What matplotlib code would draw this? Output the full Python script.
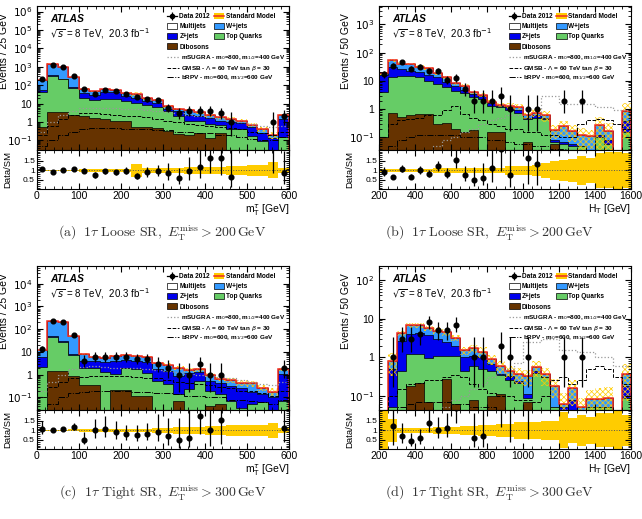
import numpy as np
import matplotlib
matplotlib.use("Agg")
import matplotlib.pyplot as plt
from matplotlib.patches import Patch
from matplotlib.lines import Line2D
from matplotlib.ticker import AutoMinorLocator, FuncFormatter, LogLocator, NullFormatter

plt.rcParams.update({
    "font.family": "Liberation Sans",
    "font.size": 7.5,
    "hatch.linewidth": 0.5,
    "axes.linewidth": 0.8,
})

C_DIB = "#663300"
C_TOP = "#66cc66"
C_Z = "#0000ee"
C_W = "#3399ff"
C_MJ = "white"
C_RED = "#ee2a24"
C_UNC = "#ffcc00"

edges_mt = np.arange(0, 601, 25)
edges_ht = np.arange(200, 1601, 50)

# ---------- (a) 1tau Loose SR, mT(tau) ----------
dib_a = [0.5, 3.5, 3.5, 2.4, 2.0, 1.6, 1.4, 1.2, 1.1, 0.5, 0.5, 0.45, 0.32, 0.23, 0.2, 0.26, 0.14, 0.26, 0, 0, 0, 0, 0, 0]
top_a = [39.5, 316, 206, 67.6, 18, 13.4, 15.6, 15.8, 12.9, 10.5, 8.0, 6.05, 3.68, 1.87, 0.9, 0.84, 0.61, 0.44, 0.4, 0.4, 0.17, 0.09, 0.01, 0.15]
zj_a = [15, 20, 20, 10, 18, 15, 23, 23, 13, 9, 4.5, 4.0, 1.0, 1.6, 1.3, 1.0, 0.85, 0.5, 0.6, 0.45, 0.33, 0.17, 0.13, 1.25]
wj_a = [147, 1090, 740, 193, 23, 17, 18, 16, 9, 12, 6, 4.8, 2.0, 1.5, 1.8, 1.3, 0.8, 0.6, 0.5, 0.35, 0.2, 0.14, 0.06, 0.9]
mj_a = [0.5, 2, 1, 0.3, 0, 0, 0, 0, 0, 0, 0, 0, 0, 0, 0, 0, 0, 0, 0, 0, 0, 0, 0, 0]
data_a = [220, 1300, 1000, 300, 60, 35, 55, 50, 35, 22, 17, 15, 6, 3, 4, 4, 4, 3, 1, 0, 0, 0, 1, 2]
unc_a = [0.05, 0.05, 0.05, 0.05, 0.08, 0.08, 0.08, 0.08, 0.08, 0.33, 0.13, 0.13, 0.15, 0.15, 0.18, 0.18, 0.2, 0.2, 0.22, 0.22, 0.28, 0.28, 0.42, 0.15]
sugra_a = [0.3, 1.0, 2.5, 4, 5.5, 6, 6, 5.5, 5, 5, 4.5, 4, 3.5, 3, 2.5, 2, 1.8, 1.5, 1.2, 1, 0.8, 0.6, 0.5, 0.6]
gmsb_a = [0.2, 0.6, 1.5, 2.5, 3, 3, 2.8, 2.5, 2.2, 2, 1.8, 1.5, 1.2, 1.0, 0.8, 0.7, 0.6, 0.5, 0.45, 0.4, 0.3, 0.25, 0.2, 0.3]
brpv_a = [0.05, 0.1, 0.2, 0.3, 0.4, 0.45, 0.45, 0.45, 0.4, 0.4, 0.4, 0.35, 0.35, 0.3, 0.3, 0.25, 0.25, 0.2, 0.2, 0.15, 0.12, 0.1, 0.1, 0.15]

# ---------- (b) 1tau Loose SR, HT ----------
dib_b = [0.1, 0.75, 0.55, 0.6, 0.7, 0.65, 0.3, 0.33, 0.2, 0.15, 0.18, 0, 0.15, 0.15, 0, 0, 0.07, 0, 0, 0.06, 0, 0, 0, 0, 0, 0, 0, 0]
top_b = [3.9, 12.75, 14.45, 14.4, 12.8, 9.35, 7.5, 5.67, 4.3, 3.45, 2.42, 2.3, 1.15, 1.0, 0.9, 0.76, 0.38, 0.5, 0.45, 0.01, 0.06, 0.05, 0.05, 0.02, 0.1, 0.06, 0, 0.15]
zj_b = [12, 17.5, 12, 8, 7.5, 6, 5.7, 3, 1.9, 1.3, 0.8, 0.7, 0.3, 0.1, 0.25, 0.19, 0.05, 0.1, 0.05, 0.01, 0.01, 0.01, 0, 0.01, 0.02, 0.02, 0, 0.23]
wj_b = [2.7, 23, 14, 17, 11, 12, 5.5, 4.4, 2.1, 1.9, 0.5, 0.3, 0.2, 0.15, 0.2, 0.25, 0.1, 0.16, 0.1, 0.1, 0.18, 0.11, 0.07, 0.08, 0.16, 0.09, 0, 0.47]
mj_b = [0] * 28
data_b = [17, 35, 45, 27, 32, 23, 23, 11, 13, 5, 2, 2, 2, 3, 1, 0, 1, 1, 0, 0, 2, 0, 2, 0, 0, 0, 0, 0]
unc_b = [0.1, 0.1, 0.1, 0.1, 0.1, 0.1, 0.12, 0.12, 0.12, 0.12, 0.15, 0.15, 0.15, 0.15, 0.25, 0.25, 0.25, 0.3, 0.4, 0.5, 0.55, 0.6, 0.75, 0.65, 0.9, 0.95, 1.0, 0.9]
sugra_b = [0.005, 0.005, 0.005, 0.01, 0.02, 0.03, 0.05, 0.08, 0.1, 0.15, 0.2, 0.3, 0.4, 0.5, 0.6, 0.6, 0.6, 0.6, 3.0, 3.0, 1.5, 1.5, 1.5, 1.5, 1.2, 1.2, 0.9, 0.9]
gmsb_b = [0.1, 0.3, 0.4, 0.45, 0.5, 0.6, 0.6, 0.9, 1.3, 0.7, 0.5, 0.4, 0.3, 0.25, 0.2, 0.2, 0.15, 0.15, 0.12, 0.12, 0.1, 0.1, 0.3, 0.4, 0.45, 0.4, 0.3, 0.2]
brpv_b = [0.02, 0.05, 0.08, 0.1, 0.12, 0.12, 0.12, 0.12, 0.12, 0.1, 0.1, 0.1, 0.08, 0.08, 0.07, 0.06, 0.06, 0.05, 0.05, 0.04, 0.04, 0.03, 0.03, 0.03, 0.02, 0.02, 0.02, 0.02]

# ---------- (c) 1tau Tight SR, mT(tau) ----------
dib_c = [0, 1.5, 1.5, 0.9, 0.36, 0.36, 0, 0.22, 0.22, 0.12, 0.12, 0, 0, 0.07, 0, 0, 0.04, 0.05, 0, 0, 0, 0, 0, 0]
top_c = [2.1, 43.5, 25.5, 6.1, 1.64, 1.64, 1.3, 0.83, 1.78, 1.68, 1.03, 0.55, 0.38, 0.07, 0.23, 0.54, 0.16, 0.09, 0.07, 0.035, 0.05, 0.06, 0, 0.07]
zj_c = [3.9, 3, 3, 1, 2, 2, 2.2, 2.75, 2.6, 2.4, 2.35, 1.25, 1.12, 0.76, 0.92, 0.73, 0.34, 0.29, 0.26, 0.215, 0.13, 0.08, 0.1, 1.0]
wj_c = [6, 182, 170, 40, 4, 2, 2, 2.7, 2.9, 2.3, 2.5, 1.4, 1.3, 1.1, 0.45, 0.43, 0.46, 0.22, 0.25, 0.2, 0.23, 0.13, 0.08, 0.68]
mj_c = [0] * 24
data_c = [13, 230, 210, 57, 4, 6, 6, 6, 6, 5, 5, 3, 2, 1, 1, 3, 1, 1, 0, 0, 0, 0, 0, 2]
unc_c = [0.04, 0.04, 0.04, 0.05, 0.08, 0.08, 0.08, 0.08, 0.08, 0.1, 0.1, 0.12, 0.12, 0.17, 0.17, 0.2, 0.22, 0.22, 0.28, 0.28, 0.3, 0.3, 0.38, 0.15]
sugra_c = [0.2, 0.5, 1.0, 1.8, 2.2, 2.3, 2.2, 2.0, 2.0, 1.9, 1.8, 1.6, 1.5, 1.3, 1.1, 1.0, 0.9, 0.8, 0.7, 0.6, 0.5, 0.4, 0.35, 0.5]
gmsb_c = [0.1, 0.3, 0.5, 0.7, 0.8, 0.9, 0.9, 0.9, 0.85, 0.8, 0.75, 0.7, 0.6, 0.5, 0.45, 0.4, 0.35, 0.3, 0.25, 0.2, 0.2, 0.15, 0.12, 0.2]
brpv_c = [0.02, 0.05, 0.1, 0.15, 0.18, 0.2, 0.2, 0.2, 0.2, 0.18, 0.18, 0.16, 0.15, 0.14, 0.12, 0.12, 0.1, 0.1, 0.08, 0.08, 0.07, 0.06, 0.05, 0.08]

# ---------- (d) 1tau Tight SR, HT ----------
dib_d = [0, 0, 0, 0.18, 0.21, 0.07, 0, 0.28, 0.06, 0, 0.08, 0, 0.1, 0.11, 0, 0, 0.07, 0, 0, 0, 0, 0, 0, 0, 0, 0, 0, 0]
top_d = [0, 0.05, 0.45, 1.02, 0.99, 0.88, 1.1, 0.82, 1.04, 0.45, 0.52, 0.5, 0.35, 0.24, 0.25, 0.22, 0.02, 0.4, 0.3, 0.05, 0.03, 0.03, 0.03, 0.05, 0.05, 0.05, 0, 0.09]
zj_d = [0, 0.45, 2.25, 2.9, 3.1, 2.75, 1.8, 1.4, 0.9, 0.55, 0.5, 0.5, 0.22, 0.01, 0.08, 0.02, 0.02, 0.05, 0, 0, 0.02, 0.05, 0, 0, 0, 0, 0, 0.09]
wj_d = [0, 0.3, 1.5, 2.7, 2.5, 2.0, 2.0, 1.9, 1.2, 0.5, 0.6, 0.4, 0.23, 0.24, 0.12, 0.12, 0.21, 0.1, 0.06, 0.13, 0.01, 0.08, 0.02, 0.035, 0.035, 0.04, 0, 0.18]
mj_d = [0] * 28
data_d = [0, 1, 3, 3, 4, 8, 5, 5, 7, 0, 1, 1, 0, 2, 1, 0, 1, 0, 0, 0, 1, 0, 1, 0, 0, 0, 0, 0]
unc_d = [1.0, 0.6, 0.15, 0.15, 0.15, 0.15, 0.2, 0.2, 0.2, 0.25, 0.25, 0.3, 0.3, 0.35, 0.35, 0.45, 0.45, 0.45, 0.5, 0.5, 0.95, 0.65, 0.8, 0.7, 0.9, 0.9, 1.0, 0.8]
sugra_d = [0.005, 0.005, 0.005, 0.005, 0.01, 0.02, 0.03, 0.05, 0.08, 0.1, 0.15, 0.2, 0.3, 0.4, 0.5, 0.7, 2.5, 2.5, 3.0, 3.0, 1.5, 1.5, 1.4, 1.4, 1.0, 1.0, 0.6, 0.6]
gmsb_d = [0.01, 0.1, 0.15, 0.2, 0.22, 0.25, 0.25, 0.3, 0.35, 0.3, 0.2, 0.15, 0.12, 0.1, 0.1, 0.08, 0.08, 0.07, 0.1, 0.25, 0.3, 0.2, 0.25, 0.5, 0.6, 0.5, 0.3, 0.2]
brpv_d = [0.01, 0.03, 0.05, 0.06, 0.07, 0.07, 0.07, 0.07, 0.06, 0.06, 0.05, 0.05, 0.05, 0.04, 0.04, 0.03, 0.03, 0.03, 0.03, 0.02, 0.02, 0.02, 0.02, 0.02, 0.02, 0.02, 0.02, 0.02]


def logfmt(v, _):
    if v <= 0:
        return ""
    e = int(round(np.log10(v)))
    if e == 0:
        return "1"
    if e == 1:
        return "10"
    return r"$10^{%d}$" % e


def poisson_band(n):
    n = np.asarray(n, float)
    lo = np.zeros_like(n)
    hi = np.zeros_like(n)
    m = n > 0
    lo[m] = n[m] * (1 - 1 / (9 * n[m]) - 1 / (3 * np.sqrt(n[m]))) ** 3
    hi[m] = (n[m] + 1) * (1 - 1 / (9 * (n[m] + 1)) + 1 / (3 * np.sqrt(n[m] + 1))) ** 3
    return lo, hi


def panel(ax, rax, edges, comps, data, unc, sigs, ylim, binw, xlab, xstep):
    cols = [C_DIB, C_TOP, C_Z, C_W, C_MJ]
    cum = np.cumsum(np.array(comps, dtype=float), axis=0)
    for k in reversed(range(len(comps))):
        ax.stairs(cum[k], edges, baseline=1e-4, fill=True, facecolor=cols[k],
                  edgecolor="black", linewidth=0.5)
    tot = cum[-1]
    unc = np.asarray(unc, float)
    ax.stairs(tot * (1 + unc), edges, baseline=tot * (1 - unc), fill=True,
              facecolor="none", edgecolor=C_UNC, hatch="xxxxxx", linewidth=0)
    ax.stairs(tot, edges, color=C_RED, linewidth=1.1)

    ax.stairs(sigs[0], edges, color="#999999", linestyle=":", linewidth=0.9)
    ax.stairs(sigs[1], edges, color="black", linestyle="--", linewidth=0.7)
    ax.stairs(sigs[2], edges, color="black", linestyle="-.", linewidth=0.7)

    n = np.asarray(data, float)
    lo, hi = poisson_band(n)
    x = 0.5 * (edges[1:] + edges[:-1])
    m = n > 0
    ax.errorbar(x[m], n[m], yerr=[n[m] - lo[m], hi[m] - n[m]], fmt="o", color="black",
                ms=3.4, lw=0.9, capsize=0, zorder=5)

    ax.set_yscale("log")
    ax.set_ylim(*ylim)
    ax.set_xlim(edges[0], edges[-1])
    decades = 10.0 ** np.arange(np.ceil(np.log10(ylim[0])), np.floor(np.log10(ylim[1])) + 1)
    ax.set_yticks(decades)
    ax.yaxis.set_minor_locator(LogLocator(base=10, subs=np.arange(2, 10), numticks=20))
    ax.yaxis.set_major_formatter(FuncFormatter(logfmt))
    ax.yaxis.set_minor_formatter(NullFormatter())
    ax.set_ylim(*ylim)
    ax.xaxis.set_major_locator(plt.MultipleLocator(xstep))
    ax.xaxis.set_minor_locator(AutoMinorLocator(5 if xstep == 100 else 4))
    ax.tick_params(which="both", direction="in", top=True, right=True, labelbottom=False)
    ax.tick_params(which="major", length=4)
    ax.tick_params(which="minor", length=2)
    ax.set_ylabel("Events / %d GeV" % binw, loc="top")
    ax.yaxis.set_label_coords(-0.11, 0.95)

    ax.text(0.052, 0.91, "ATLAS", transform=ax.transAxes, fontsize=7.5,
            fontweight="bold", fontstyle="italic", va="center")
    ax.text(0.052, 0.81, r"$\sqrt{s}$ = 8 TeV,  20.3 fb$^{-1}$", transform=ax.transAxes,
            fontsize=7, va="center")

    h_data = (Line2D([], [], color="black", lw=0.9),
              Line2D([], [], color="black", marker="|", ms=6, ls="none", mew=0.9),
              Line2D([], [], color="black", marker="o", ms=3, ls="none"))
    h_sm = (Patch(facecolor=C_UNC, edgecolor="none"), Line2D([], [], color=C_RED, lw=1.1))
    hp = lambda c: Patch(facecolor=c, edgecolor="black", linewidth=0.5)
    handles = [h_data, hp(C_MJ), hp(C_Z), hp(C_DIB), h_sm, hp(C_W), hp(C_TOP)]
    labels = ["Data 2012", "Multijets", "Z+jets", "Dibosons", "Standard Model", "W+jets", "Top Quarks"]
    leg = ax.legend(handles, labels, loc="upper left", bbox_to_anchor=(0.516, 0.952), ncol=2,
                    frameon=False, fontsize=4.7, handlelength=1.6, handleheight=1.1,
                    columnspacing=0.6, labelspacing=0.42, handletextpad=0.3, borderpad=0,
                    borderaxespad=0)
    for t in leg.get_texts():
        t.set_fontweight("bold")
    ax.add_artist(leg)
    sh = [Line2D([], [], color="#999999", ls=":", lw=0.9),
          Line2D([], [], color="black", ls="--", lw=0.7),
          Line2D([], [], color="black", ls="-.", lw=0.7)]
    sl = [r"mSUGRA - m$_0$=800, m$_{1/2}$=400 GeV",
          r"GMSB - $\Lambda$ = 60 TeV tan $\beta$ = 30",
          r"bRPV - m$_0$=600, m$_{1/2}$=600 GeV"]
    leg2 = ax.legend(sh, sl, loc="upper left", bbox_to_anchor=(0.516, 0.665), frameon=False,
                     fontsize=4.6, handlelength=1.8, labelspacing=0.22, handletextpad=0.4,
                     borderpad=0, borderaxespad=0)
    for t in leg2.get_texts():
        t.set_fontweight("bold")

    # ratio panel
    rax.stairs(1 + unc, edges, baseline=1 - unc, fill=True, color=C_UNC, linewidth=0)
    rax.axhline(1, color="#555555", ls=":", lw=0.7)
    ok = m & (tot > 0)
    rax.errorbar(x[ok], n[ok] / tot[ok],
                 yerr=[(n - lo)[ok] / tot[ok], (hi - n)[ok] / tot[ok]],
                 fmt="o", color="black", ms=3.4, lw=0.9, capsize=0, zorder=5)
    rax.set_xlim(edges[0], edges[-1])
    rax.set_ylim(0.02, 2.08)
    rax.set_yticks([0.5, 1, 1.5])
    rax.set_yticklabels(["0.5", "1", "1.5"], fontsize=6)
    rax.yaxis.set_minor_locator(AutoMinorLocator(5))
    rax.xaxis.set_major_locator(plt.MultipleLocator(xstep))
    rax.xaxis.set_minor_locator(AutoMinorLocator(5 if xstep == 100 else 4))
    rax.tick_params(which="both", direction="in", top=True, right=True)
    rax.tick_params(which="major", length=4, pad=1.5)
    rax.tick_params(which="minor", length=2)
    rax.set_ylabel("Data/SM", fontsize=6.8)
    rax.yaxis.set_label_coords(-0.1, 0.5)
    rax.set_xlabel(xlab, loc="right", labelpad=1)


fig = plt.figure(figsize=(6.42, 5.19), dpi=100)
W = 0.3925
H_MAIN = 0.2775
H_RAT = 0.0752
specs = [
    (0.0576, 0.711, 0.6358),
    (0.5905, 0.711, 0.6358),
    (0.0576, 0.210, 0.1349),
    (0.5905, 0.210, 0.1349),
]
mt_lab = r"m$_{\rm T}^{\tau}$ [GeV]"
ht_lab = r"H$_{\rm T}$ [GeV]"
setup = [
    (edges_mt, [dib_a, top_a, zj_a, wj_a, mj_a], data_a, unc_a, [sugra_a, gmsb_a, brpv_a], (0.03, 2e6), 25, mt_lab, 100),
    (edges_ht, [dib_b, top_b, zj_b, wj_b, mj_b], data_b, unc_b, [sugra_b, gmsb_b, brpv_b], (0.036, 4500), 50, ht_lab, 200),
    (edges_mt, [dib_c, top_c, zj_c, wj_c, mj_c], data_c, unc_c, [sugra_c, gmsb_c, brpv_c], (0.028, 6e4), 25, mt_lab, 100),
    (edges_ht, [dib_d, top_d, zj_d, wj_d, mj_d], data_d, unc_d, [sugra_d, gmsb_d, brpv_d], (0.043, 230), 50, ht_lab, 200),
]
for (left, b_main, b_rat), args in zip(specs, setup):
    ax = fig.add_axes([left, b_main, W, H_MAIN])
    rax = fig.add_axes([left, b_rat, W, H_RAT])
    panel(ax, rax, *args)

captions = [
    (0.253, 0.551, r"$\mathrm{(a)\ \ 1}\tau\mathrm{\ Loose\ SR,\ }E_{\mathrm{T}}^{\mathrm{miss}}>200\,\mathrm{GeV}$"),
    (0.763, 0.551, r"$\mathrm{(b)\ \ 1}\tau\mathrm{\ Loose\ SR,\ }E_{\mathrm{T}}^{\mathrm{miss}}>200\,\mathrm{GeV}$"),
    (0.253, 0.050, r"$\mathrm{(c)\ \ 1}\tau\mathrm{\ Tight\ SR,\ }E_{\mathrm{T}}^{\mathrm{miss}}>300\,\mathrm{GeV}$"),
    (0.763, 0.050, r"$\mathrm{(d)\ \ 1}\tau\mathrm{\ Tight\ SR,\ }E_{\mathrm{T}}^{\mathrm{miss}}>300\,\mathrm{GeV}$"),
]
for cx, cy, txt in captions:
    fig.text(cx, cy, txt, ha="center", va="center", fontsize=10, math_fontfamily="cm", color="#333333")

fig.savefig("out.png", dpi=100)
